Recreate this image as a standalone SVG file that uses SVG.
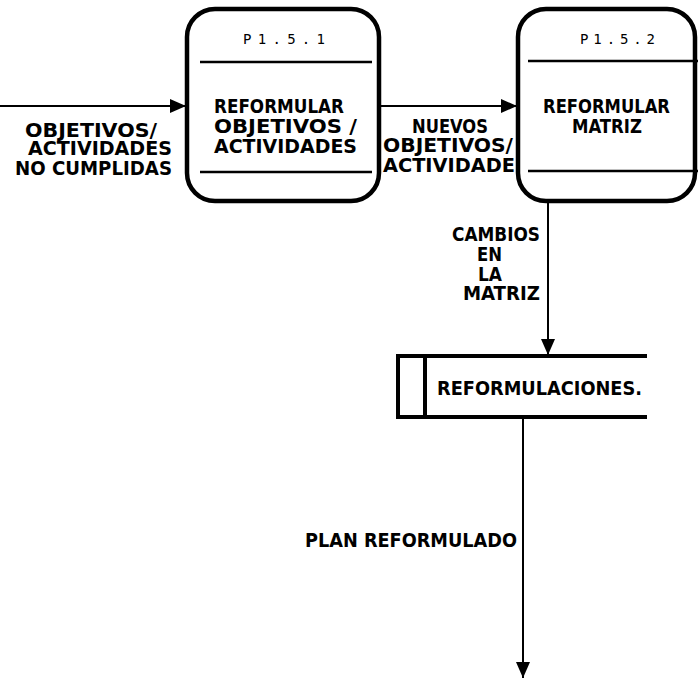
<svg xmlns="http://www.w3.org/2000/svg" width="698" height="678" viewBox="0 0 698 678">
<style>
.box{fill:#fff;stroke:#000;stroke-width:4.5}
.sep{stroke:#000;stroke-width:2.5}
.t{font-family:"DejaVu Sans Condensed","DejaVu Sans",sans-serif;font-stretch:condensed;font-size:19.5px;font-weight:bold;fill:#000}
.id{font-family:"DejaVu Sans Mono","Liberation Mono",monospace;font-size:14px;fill:#000}
.ln{stroke:#000;stroke-width:2;fill:none}
.st{stroke:#000;stroke-width:4;fill:none}
</style>
<defs>
<marker id="ah" viewBox="0 0 16 14" refX="16" refY="7" markerWidth="16" markerHeight="14" markerUnits="userSpaceOnUse" orient="auto">
<path d="M0,0 L16,7 L0,14 z" fill="#000"/>
</marker>
</defs>
<g id="connectors">
<line class="ln" x1="0" y1="106" x2="186" y2="106" marker-end="url(#ah)"/>
<line class="ln" x1="380" y1="106" x2="517" y2="106" marker-end="url(#ah)"/>
<line class="ln" x1="548" y1="202" x2="548" y2="355" marker-end="url(#ah)"/>
<line class="ln" x1="523" y1="418" x2="523" y2="678" marker-end="url(#ah)"/>
<g id="lbl1">
<text class="t" x="25" y="137" textLength="132" lengthAdjust="spacingAndGlyphs">OBJETIVOS/</text>
<text class="t" x="28" y="155" textLength="144" lengthAdjust="spacingAndGlyphs">ACTIVIDADES</text>
<text class="t" x="15" y="175" textLength="157" lengthAdjust="spacingAndGlyphs">NO CUMPLIDAS</text>
</g>
<g id="lbl2">
<text class="t" x="412" y="133" textLength="76" lengthAdjust="spacingAndGlyphs">NUEVOS</text>
<text class="t" x="383" y="152" textLength="130" lengthAdjust="spacingAndGlyphs">OBJETIVOS/</text>
<text class="t" x="383" y="172" textLength="132" lengthAdjust="spacingAndGlyphs">ACTIVIDADE</text>
</g>
<g id="lbl3">
<text class="t" x="452" y="241" textLength="88" lengthAdjust="spacingAndGlyphs">CAMBIOS</text>
<text class="t" x="477" y="261" textLength="25" lengthAdjust="spacingAndGlyphs">EN</text>
<text class="t" x="478" y="281" textLength="24" lengthAdjust="spacingAndGlyphs">LA</text>
<text class="t" x="463" y="300" textLength="77" lengthAdjust="spacingAndGlyphs">MATRIZ</text>
</g>
<text class="t" x="305" y="547" textLength="212" lengthAdjust="spacingAndGlyphs">PLAN REFORMULADO</text>
</g>
<g id="P1.5.1">
<rect class="box" x="187" y="9" width="192" height="192" rx="28"/>
<line class="sep" x1="200" y1="62" x2="372" y2="62"/>
<line class="sep" x1="200" y1="172" x2="372" y2="172"/>
<text class="id" x="243" y="44" textLength="82">P1.5.1</text>
<text class="t" x="214" y="113" textLength="130" lengthAdjust="spacingAndGlyphs">REFORMULAR</text>
<text class="t" x="214" y="133" textLength="143" lengthAdjust="spacingAndGlyphs">OBJETIVOS /</text>
<text class="t" x="214" y="153" textLength="143" lengthAdjust="spacingAndGlyphs">ACTIVIDADES</text>
</g>
<g id="P1.5.2">
<rect class="box" x="518" y="9" width="177" height="192" rx="28"/>
<line class="sep" x1="528" y1="61" x2="698" y2="61"/>
<line class="sep" x1="528" y1="171" x2="698" y2="171"/>
<text class="id" x="580" y="44" textLength="75">P1.5.2</text>
<text class="t" x="543" y="113" textLength="127" lengthAdjust="spacingAndGlyphs">REFORMULAR</text>
<text class="t" x="572" y="133" textLength="70" lengthAdjust="spacingAndGlyphs">MATRIZ</text>
</g>
<g id="store">
<line class="st" x1="396" y1="356" x2="647" y2="356"/>
<line class="st" x1="396" y1="417" x2="647" y2="417"/>
<line class="st" x1="398" y1="356" x2="398" y2="417"/>
<line class="st" x1="425" y1="356" x2="425" y2="417"/>
<text class="t" x="437" y="395" textLength="205" lengthAdjust="spacingAndGlyphs">REFORMULACIONES.</text>
</g>
</svg>
